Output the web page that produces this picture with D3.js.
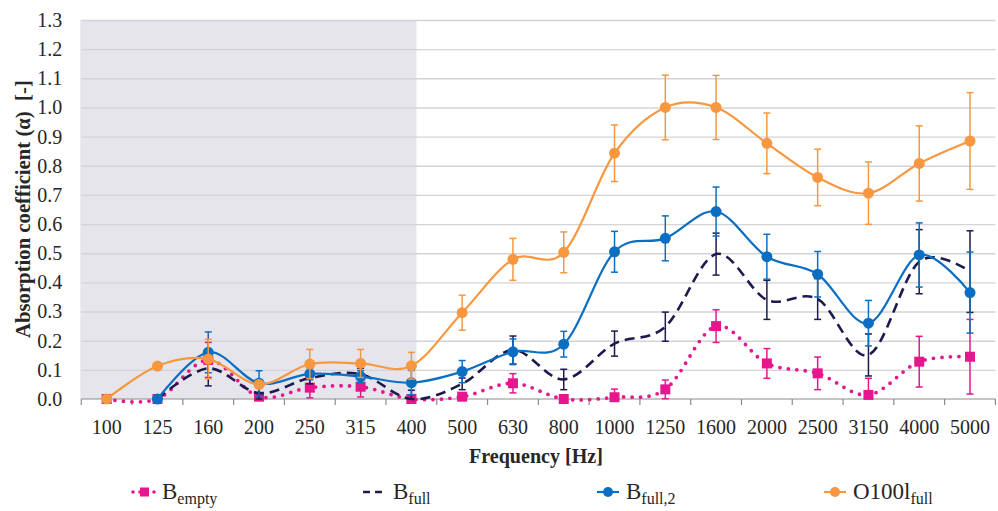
<!DOCTYPE html>
<html>
<head>
<meta charset="utf-8">
<script src="https://cdn.jsdelivr.net/npm/d3@7"></script>
<style>
  html, body { margin: 0; padding: 0; background: #fff; }
  svg { display: block; }
  text { font-family: "Liberation Serif", "Times New Roman", serif; fill: #262626; }
</style>
</head>
<body>
<svg id="chart" width="998" height="511"></svg>
<script>
// ---------- data ----------
const categories = ["100","125","160","200","250","315","400","500","630","800","1000","1250","1600","2000","2500","3150","4000","5000"];
const yTicks = [0,0.1,0.2,0.3,0.4,0.5,0.6,0.7,0.8,0.9,1.0,1.1,1.2,1.3];

const bEmpty     = [0, 0, 0.134, 0.008, 0.039, 0.042, 0.0, 0.008, 0.054, 0.0, 0.006, 0.033, 0.25, 0.122, 0.088, 0.014, 0.128, 0.145];
const bEmptyErr  = [0, 0, 0.06, 0.01, 0.035, 0.035, 0.0, 0.0, 0.033, 0.0, 0.028, 0.032, 0.056, 0.051, 0.056, 0.057, 0.087, 0.128];

const bFull      = [null, 0, 0.105, 0.02, 0.072, 0.085, 0.0, 0.052, 0.168, 0.067, 0.19, 0.248, 0.497, 0.34, 0.343, 0.151, 0.471, 0.437];
const bFullErr   = [0, 0, 0.06, 0.02, 0.02, 0.02, 0.03, 0.02, 0.048, 0.035, 0.043, 0.05, 0.072, 0.067, 0.07, 0.072, 0.11, 0.14];

const bFull2     = [null, 0, 0.16, 0.054, 0.086, 0.077, 0.056, 0.094, 0.162, 0.188, 0.505, 0.551, 0.643, 0.488, 0.428, 0.26, 0.494, 0.365];
const bFull2Err  = [0, 0, 0.07, 0.043, 0.02, 0.02, 0.042, 0.038, 0.044, 0.044, 0.07, 0.077, 0.084, 0.077, 0.078, 0.078, 0.11, 0.139];

const o100l      = [0, 0.113, 0.137, 0.05, 0.12, 0.122, 0.114, 0.296, 0.479, 0.503, 0.843, 1.0, 1.0, 0.877, 0.76, 0.706, 0.808, 0.885];
const o100lErr   = [0, 0, 0.068, 0.01, 0.05, 0.048, 0.046, 0.06, 0.072, 0.07, 0.097, 0.111, 0.11, 0.104, 0.097, 0.107, 0.129, 0.166];

const shadedTo = "400";

// ---------- layout ----------
const svg = d3.select("#chart");
const plot = { left: 81.3, right: 995.4, top: 20, bottom: 399 };

const x = d3.scaleBand().domain(categories).range([plot.left, plot.right]).padding(0);
const cx = c => x(c) + x.bandwidth() / 2;
const y = d3.scaleLinear().domain([0, 1.3]).range([plot.bottom, plot.top]);

// shaded low-frequency region
svg.append("rect")
  .attr("x", plot.left - 1)
  .attr("y", y(1.3))
  .attr("width", x(shadedTo) + x.bandwidth() * 0.6 - plot.left + 1)
  .attr("height", y(0) - y(1.3))
  .attr("fill", "#E6E5EB");

// gridlines
svg.append("g")
  .attr("transform", `translate(${plot.left},0)`)
  .call(d3.axisLeft(y).tickValues(yTicks.filter(v => v > 0)).tickSize(-(plot.right - plot.left)).tickFormat(""))
  .call(g => g.select(".domain").remove())
  .call(g => g.selectAll("line").attr("stroke", "#D4D4D8").attr("stroke-width", 1.4));

// y tick labels
svg.append("g")
  .attr("transform", `translate(${plot.left - 19},0)`)
  .call(d3.axisLeft(y).tickValues(yTicks).tickSize(0).tickPadding(0).tickFormat(d3.format(".1f")))
  .call(g => g.select(".domain").remove())
  .call(g => g.selectAll("text").attr("font-size", 20).attr("font-family", "Liberation Serif").attr("fill", "#262626"));

// x axis labels
svg.append("g")
  .attr("transform", `translate(0,${plot.bottom})`)
  .call(d3.axisBottom(x).tickSize(0).tickPadding(21))
  .call(g => g.select(".domain").remove())
  .call(g => g.selectAll("text").attr("font-size", 20).attr("font-family", "Liberation Serif").attr("fill", "#262626"));

// x axis line and ticks between categories
const axisG = svg.append("g");
axisG.append("line")
  .attr("x1", plot.left).attr("x2", plot.right)
  .attr("y1", y(0)).attr("y2", y(0))
  .attr("stroke", "#8C8C8C").attr("stroke-width", 1.2);
const boundaries = categories.map(c => x(c)).concat([x(categories[categories.length - 1]) + x.bandwidth()]);
axisG.selectAll("line.tick").data(boundaries).join("line")
  .attr("class", "tick")
  .attr("x1", d => d).attr("x2", d => d)
  .attr("y1", y(0)).attr("y2", y(0) + 6)
  .attr("stroke", "#8C8C8C").attr("stroke-width", 1.2);

// fit a text element's length to a target width by adjusting font size
function fitText(sel, target, base) {
  const len = sel.node().getComputedTextLength();
  if (len > 0) sel.attr("font-size", base * target / len);
}

// axis titles
const yTitle = svg.append("text")
  .attr("transform", `translate(30,338) rotate(-90)`)
  .attr("text-anchor", "start")
  .attr("font-size", 18).attr("font-weight", "bold")
  .text("Absorption coefficient (α)\u00A0\u00A0[-]");
fitText(yTitle, 258, 18);

const xTitle = svg.append("text")
  .attr("x", 469).attr("y", 463)
  .attr("text-anchor", "start")
  .attr("font-size", 19).attr("font-weight", "bold")
  .text("Frequency [Hz]");
fitText(xTitle, 134, 19);

// ---------- series ----------
const series = [
  { name: "B", sub: "empty", values: bEmpty, err: bEmptyErr, color: "#E6168F", line: "dotted", marker: "square" },
  { name: "B", sub: "full", values: bFull, err: bFullErr, color: "#1C1A4F", line: "dashed", marker: "none" },
  { name: "B", sub: "full,2", values: bFull2, err: bFull2Err, color: "#0A6FC2", line: "solid", marker: "circle" },
  { name: "O100l", sub: "full", values: o100l, err: o100lErr, color: "#F7973F", line: "solid", marker: "circle" }
];

const lineGen = d3.line()
  .defined(d => d.v !== null)
  .x(d => cx(d.c))
  .y(d => y(d.v))
  .curve(d3.curveCardinal.tension(0));

function styleLine(sel, s) {
  sel.attr("fill", "none").attr("stroke", s.color);
  if (s.line === "dotted") {
    sel.attr("stroke-width", 3.8).attr("stroke-linecap", "round").attr("stroke-dasharray", "0 8.5");
  } else if (s.line === "dashed") {
    sel.attr("stroke-width", 2.6).attr("stroke-dasharray", "10 6");
  } else {
    sel.attr("stroke-width", 2.2);
  }
}

const clampY = v => Math.max(0, Math.min(1.3, v));

series.forEach(s => {
  const pts = categories.map((c, i) => ({ c, v: s.values[i], e: s.err[i] }));
  const g = svg.append("g");

  // error bars
  const eb = g.selectAll("g.eb").data(pts.filter(d => d.v !== null && d.e > 0)).join("g");
  eb.append("line")
    .attr("x1", d => cx(d.c)).attr("x2", d => cx(d.c))
    .attr("y1", d => y(clampY(d.v - d.e))).attr("y2", d => y(clampY(d.v + d.e)))
    .attr("stroke", s.color).attr("stroke-width", 1.5);
  eb.filter(d => d.v + d.e <= 1.3).append("line")
    .attr("x1", d => cx(d.c) - 3.5).attr("x2", d => cx(d.c) + 3.5)
    .attr("y1", d => y(d.v + d.e)).attr("y2", d => y(d.v + d.e))
    .attr("stroke", s.color).attr("stroke-width", 1.5);
  eb.filter(d => d.v - d.e >= 0).append("line")
    .attr("x1", d => cx(d.c) - 3.5).attr("x2", d => cx(d.c) + 3.5)
    .attr("y1", d => y(d.v - d.e)).attr("y2", d => y(d.v - d.e))
    .attr("stroke", s.color).attr("stroke-width", 1.5);

  // line
  g.append("path").datum(pts).attr("d", lineGen).call(styleLine, s);

  // markers
  const mp = pts.filter(d => d.v !== null);
  if (s.marker === "circle") {
    g.selectAll("circle").data(mp).join("circle")
      .attr("cx", d => cx(d.c)).attr("cy", d => y(d.v)).attr("r", 5.5)
      .attr("fill", s.color);
  } else if (s.marker === "square") {
    g.selectAll("rect").data(mp).join("rect")
      .attr("x", d => cx(d.c) - 5).attr("y", d => y(d.v) - 5)
      .attr("width", 10).attr("height", 10)
      .attr("fill", s.color);
  }
});

// ---------- legend ----------
const legendX = [133, 363, 597, 824];
const legendY = 492;
const leg = svg.append("g");
series.forEach((s, i) => {
  const lx = legendX[i];
  const g = leg.append("g");
  const seg = g.append("line")
    .attr("x1", lx).attr("x2", lx + 22)
    .attr("y1", legendY).attr("y2", legendY);
  if (s.line === "dotted") {
    seg.attr("stroke", s.color).attr("stroke-width", 3.6).attr("stroke-linecap", "round").attr("stroke-dasharray", "0 7");
  } else if (s.line === "dashed") {
    seg.attr("stroke", s.color).attr("stroke-width", 2.6).attr("stroke-dasharray", "7 5").attr("x2", lx + 19);
  } else {
    seg.attr("stroke", s.color).attr("stroke-width", 2.2);
  }
  if (s.marker === "circle") {
    g.append("circle").attr("cx", lx + 11).attr("cy", legendY).attr("r", 5).attr("fill", s.color);
  } else if (s.marker === "square") {
    g.append("rect").attr("x", lx + 7).attr("y", legendY - 4.5).attr("width", 9).attr("height", 9).attr("fill", s.color);
  }
  const t = g.append("text")
    .attr("x", lx + (s.line === "dashed" ? 30 : 29)).attr("y", legendY + 7)
    .attr("font-size", 23);
  t.append("tspan").text(s.name);
  t.append("tspan").attr("font-size", 16).attr("dy", 5).text(s.sub);
});
</script>
</body>
</html>
